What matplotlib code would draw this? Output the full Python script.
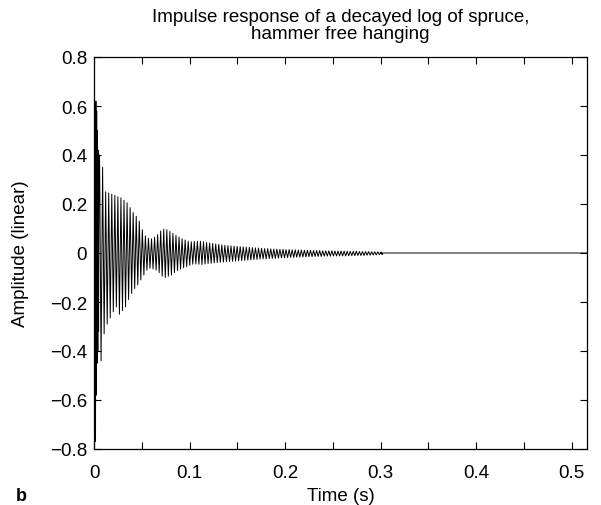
import matplotlib

matplotlib.use("Agg")
import matplotlib.pyplot as plt
import numpy as np
from matplotlib.ticker import FixedLocator, FuncFormatter

# strike transient at the very start (s, linear amplitude)
ONSET_TIMES = [0.0, 0.0016, 0.0020, 0.0024, 0.0028, 0.0032, 0.0036, 0.0040, 0.0044, 0.0048, 0.0052]
ONSET_VALUES = [-0.05, -0.77, 0.62, -0.58, 0.58, -0.45, 0.50, -0.40, 0.42, -0.32, 0.36]

# ringing: one positive and one negative peak per cycle
CYCLE_START = 0.0058
CYCLE_PERIOD = 0.0032
UPPER_PEAKS = [
    0.40, 0.35, 0.25, 0.245, 0.24, 0.235, 0.23, 0.225, 0.215, 0.205,
    0.185, 0.165, 0.15, 0.13, 0.095, 0.07, 0.06, 0.058, 0.065, 0.075,
    0.09, 0.097, 0.095, 0.088, 0.08, 0.072, 0.065, 0.058, 0.053, 0.048,
    0.046, 0.047, 0.048, 0.048, 0.046, 0.043, 0.041, 0.039, 0.037, 0.035,
    0.033, 0.031, 0.030, 0.029, 0.028, 0.027, 0.026, 0.025, 0.024, 0.023,
    0.022, 0.021, 0.020, 0.019, 0.018, 0.018, 0.017, 0.016, 0.016, 0.015,
    0.015, 0.014, 0.014, 0.013, 0.013, 0.012, 0.012, 0.011, 0.011, 0.011,
    0.010, 0.010, 0.010, 0.009, 0.009, 0.009, 0.009, 0.008, 0.008, 0.008,
    0.008, 0.007, 0.007, 0.007, 0.007, 0.006, 0.006, 0.006, 0.006, 0.005,
    0.005, 0.005, 0.004,
]
LOWER_PEAKS = [
    -0.44, -0.33, -0.29, -0.265, -0.24, -0.22, -0.25, -0.235, -0.22, -0.19,
    -0.165, -0.145, -0.13, -0.11, -0.09, -0.07, -0.062, -0.065, -0.07, -0.08,
    -0.095, -0.10, -0.095, -0.09, -0.08, -0.072, -0.066, -0.06, -0.056, -0.05,
    -0.046, -0.045, -0.046, -0.047, -0.045, -0.043, -0.042, -0.04, -0.039, -0.038,
    -0.037, -0.036, -0.035, -0.034, -0.033, -0.032, -0.031, -0.030, -0.029, -0.028,
    -0.027, -0.026, -0.025, -0.024, -0.024, -0.023, -0.022, -0.022, -0.021, -0.020,
    -0.020, -0.019, -0.018, -0.018, -0.017, -0.017, -0.016, -0.016, -0.015, -0.015,
    -0.014, -0.014, -0.014, -0.013, -0.013, -0.013, -0.012, -0.012, -0.012, -0.012,
    -0.012, -0.011, -0.011, -0.011, -0.010, -0.010, -0.010, -0.009, -0.009, -0.008,
    -0.008, -0.007, -0.006,
]

# settled tail
TAIL_TIMES = [0.300, 0.516]
TAIL_VALUES = [0.0, 0.0]

X_TICKS = [0.0, 0.05, 0.1, 0.15, 0.2, 0.25, 0.3, 0.35, 0.4, 0.45, 0.5]
Y_TICKS = [-0.8, -0.6, -0.4, -0.2, 0.0, 0.2, 0.4, 0.6, 0.8]


def build_trace():
    n = len(UPPER_PEAKS)
    t_up = CYCLE_START + CYCLE_PERIOD * np.arange(n)
    t_lo = t_up + CYCLE_PERIOD / 2
    t_ring = np.column_stack([t_up, t_lo]).ravel()
    v_ring = np.column_stack([UPPER_PEAKS, LOWER_PEAKS]).ravel()
    t = np.concatenate([ONSET_TIMES, t_ring, TAIL_TIMES])
    v = np.concatenate([ONSET_VALUES, v_ring, TAIL_VALUES])
    return t, v


def main() -> None:
    plt.rcParams["font.family"] = ["Liberation Sans", "DejaVu Sans"]

    fig = plt.figure(figsize=(6.01, 5.06), dpi=100)
    ax = fig.add_axes([94 / 601, 1 - 450 / 506, (587 - 94) / 601, (450 - 58) / 506])

    t, v = build_trace()
    ax.plot(t, v, color="black", linewidth=0.7)

    ax.set_xlim(0, 0.516)
    ax.set_ylim(-0.8, 0.8)
    ax.xaxis.set_major_locator(FixedLocator(X_TICKS))
    ax.xaxis.set_major_formatter(
        FuncFormatter(lambda x, _: "" if round(x / 0.05) % 2 else f"{x:g}")
    )
    ax.set_yticks(Y_TICKS)
    ax.yaxis.set_major_formatter(
        FuncFormatter(lambda y, _: "0" if abs(y) < 1e-9 else f"{y:.1f}".replace("-", "\u2212"))
    )
    ax.tick_params(direction="in", length=5, width=0.8, top=True, right=True,
                   labelsize=13.5, colors="black")
    ax.tick_params(axis="x", pad=11)
    ax.tick_params(axis="y", pad=5)
    for spine in ax.spines.values():
        spine.set_linewidth(0.9)

    ax.set_xlabel("Time (s)", fontsize=13.5, va="top")
    ax.xaxis.set_label_coords(0.5, (450 - 488) / 392)
    ax.set_ylabel("Amplitude (linear)", fontsize=13.5, va="bottom")
    ax.yaxis.set_label_coords((29 - 94) / 493, 0.5)
    ax.set_title("Impulse response of a decayed log of spruce,\nhammer free hanging",
                 fontsize=13.5, linespacing=0.95, pad=14)
    fig.text(16 / 601, 1 - 497 / 506, "b", fontsize=13, fontweight="bold",
             ha="left", va="center")

    fig.savefig("out.png", dpi=100)
    plt.close(fig)


if __name__ == "__main__":
    main()
